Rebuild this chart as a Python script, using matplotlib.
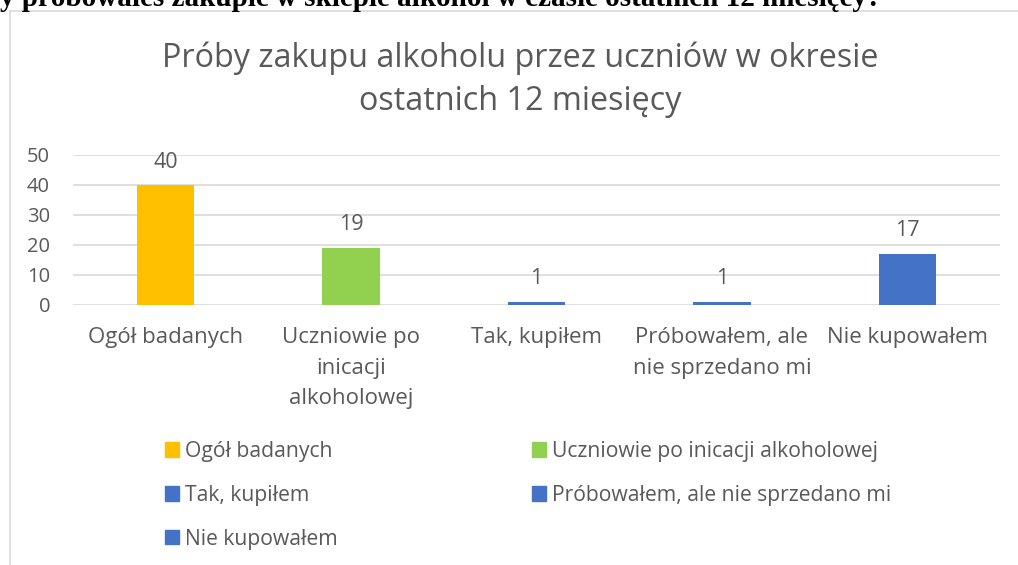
import matplotlib
matplotlib.use("Agg")
import matplotlib.pyplot as plt
from matplotlib.patches import Patch
from matplotlib.lines import Line2D

# data
categories = ["Ogół badanych", "Uczniowie po inicacji alkoholowej", "Tak, kupiłem",
              "Próbowałem, ale nie sprzedano mi", "Nie kupowałem"]
tick_labels = ["Ogół badanych", "Uczniowie po\ninicacji\nalkoholowej", "Tak, kupiłem",
               "Próbowałem, ale\nnie sprzedano mi", "Nie kupowałem"]
legend_labels = ["Ogół badanych", "Uczniowie po inicacji alkoholowej", "Tak, kupiłem",
                 "Próbowałem, ale nie sprzedano mi", "Nie kupowałem"]
values = [40, 19, 1, 1, 17]
bar_colors = ["#FFC000", "#92D050", "#4472C4", "#4472C4", "#4472C4"]

TEXT = "#595959"
GRID = "#D9D9D9"
plt.rcParams['font.family'] = ['Open Sans', 'DejaVu Sans']

fig = plt.figure(figsize=(10.18, 5.65), dpi=100)
W, H = 1018, 565

# cut-off question heading above the chart frame
fig.text(0, 1 - 6 / H, "y próbowałeś zakupić w sklepie alkohol w czasie ostatnich 12 miesięcy?",
         family="Liberation Serif", fontweight="bold", fontsize=21, color="black",
         ha="left", va="baseline")

# chart frame (only top and left edges are visible)
fig.add_artist(Line2D([9.5 / W, 9.5 / W], [0, 1 - 10.5 / H], transform=fig.transFigure,
                      color=GRID, lw=1.2))
fig.add_artist(Line2D([9.5 / W, 1], [1 - 10.5 / H, 1 - 10.5 / H], transform=fig.transFigure,
                      color=GRID, lw=1.2))

ax = fig.add_axes([73 / W, 1 - 305 / H, (1000 - 73) / W, 150 / H])
x = range(len(categories))
bars = ax.bar(x, values, width=0.31, color=bar_colors)
for b, v in zip(bars, values):
    ax.annotate(str(v), (b.get_x() + b.get_width() / 2, v), xytext=(0, 9),
                textcoords="offset points", ha="center", va="bottom",
                fontsize=15.5, color=TEXT)

ax.set_xlim(-0.5, len(categories) - 0.5)
ax.set_ylim(0, 50)
ax.set_yticks(range(0, 51, 10))
ax.yaxis.grid(True, color=GRID, lw=1.2)
ax.set_axisbelow(True)
for s in ax.spines.values():
    s.set_visible(False)
ax.tick_params(axis="y", length=0, labelsize=14.5, labelcolor=TEXT, pad=16.5)
ax.tick_params(axis="x", length=0, labelsize=16, labelcolor=TEXT, pad=16)
ax.set_xticks(list(x))
ax.set_xticklabels(tick_labels, linespacing=1.6)

fig.text(0.511, 1 - 58 / H, "Próby zakupu alkoholu przez uczniów w okresie",
         ha="center", va="center", fontsize=23.3, color=TEXT)
fig.text(0.511, 1 - 101 / H, "ostatnich 12 miesięcy",
         ha="center", va="center", fontsize=23.3, color=TEXT)

# legend filled row by row, as in the reference
handles = [Patch(color=c, label=l) for c, l in zip(bar_colors, legend_labels)]
order = [0, 2, 4, 1, 3]
fig.legend([handles[i] for i in order], [legend_labels[i] for i in order],
           ncol=2, loc="upper left", bbox_to_anchor=(165 / W, 1 - 441 / H),
           frameon=False, fontsize=15.2, labelcolor=TEXT, handlelength=0.66,
           handleheight=0.66, handletextpad=0.28, columnspacing=9.2,
           labelspacing=1.08, borderpad=0, borderaxespad=0)

fig.savefig("out.png", dpi=100)
